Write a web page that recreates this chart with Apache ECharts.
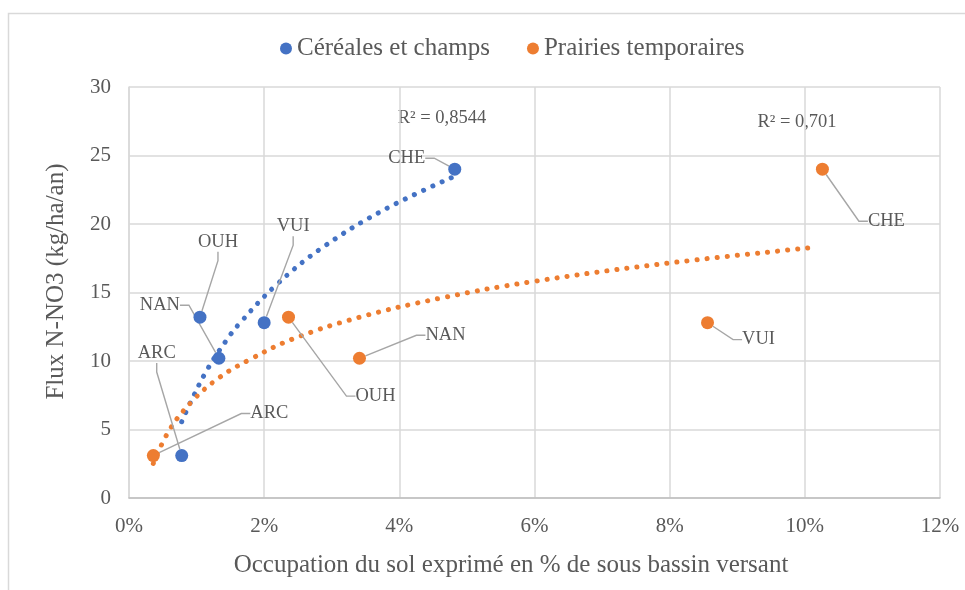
<!DOCTYPE html>
<html>
<head>
<meta charset="utf-8">
<script src="https://cdn.jsdelivr.net/npm/echarts@6/dist/echarts.min.js"></script>
<style>html,body{margin:0;padding:0;background:#fff;}#chart{width:965px;height:590px;}</style>
</head>
<body>
<div id="chart"></div>
<script>
// ---- data ----
var seriesNames = ['Céréales et champs', 'Prairies temporaires'];
var basinNames = ['ARC', 'OUH', 'NAN', 'VUI', 'CHE'];
var fluxValues = [3.1, 13.2, 10.2, 12.8, 24.0];             // kg/ha/an
var cerealesShare = [0.78, 1.05, 1.33, 2.0, 4.82];          // % of sub-basin
var prairiesShare = [0.36, 2.36, 3.41, 8.56, 10.26];        // % of sub-basin
// trend lines (logarithmic)
var cerealesTrend = [[0.78,5.57],[0.919,7.08],[1.16,9.39],[1.437,11.48],[1.625,12.68],[2.168,15.50],[2.859,18.27],[3.768,21.02],[4.77,23.38]];
var prairiesTrend = [[0.36,2.53],[0.598,4.96],[0.928,7.03],[1.333,8.78],[1.793,10.12],[2.425,11.61],[3.407,13.19],[4.593,14.57],[5.965,15.79],[8.039,17.18],[10.163,18.30]];
var r2Labels = ['R² = 0,8544', 'R² = 0,701'];
var xTicks = {min: 0, max: 12, interval: 2};
var yTicks = {min: 0, max: 30, interval: 5};

// ---- styling ----
var FONT = "'Liberation Serif', 'Times New Roman', serif";
var TXT = '#595959';
var BLUE = '#4472C4', ORANGE = '#ED7D31';
// label offsets (px) per basin, per series
var cerealesLabelOffsets = [[-25,-102],[18,-75],[-59,-53],[29,-96],[-48,-11]];
var prairiesLabelOffsets = [[116,-42],[87,79],[86,-23],[51,17],[64,52]];

function pts(xs) {
  return xs.map(function (x, i) { return {name: basinNames[i], value: [x, fluxValues[i]]}; });
}

function scatterSeries(name, xs, color, offsets) {
  return {
    name: name,
    type: 'scatter',
    z: 5,
    symbol: 'circle',
    symbolSize: 13,
    itemStyle: {color: color, opacity: 1},
    data: pts(xs),
    label: {
      show: true,
      position: 'inside',
      formatter: '{b}',
      color: TXT,
      fontFamily: FONT,
      fontSize: 18.5
    },
    labelLine: {
      show: true,
      length2: 9,
      lineStyle: {color: '#a6a6a6', width: 1.4}
    },
    labelLayout: function (p) {
      var o = offsets[p.dataIndex];
      return {dx: o[0], dy: o[1]};
    },
    emphasis: {disabled: true}
  };
}

function trendSeries(name, data, color) {
  return {
    name: name,
    type: 'line',
    z: 3,
    data: data,
    smooth: 0.4,
    showSymbol: false,
    symbol: 'none',
    silent: true,
    lineStyle: {color: color, width: 5, type: [0.1, 10], cap: 'round'}
  };
}

var chart = echarts.init(document.getElementById('chart'), null, {renderer: 'canvas'});
chart.setOption({
  animation: false,
  backgroundColor: '#fff',
  textStyle: {fontFamily: FONT},
  grid: {left: 129, top: 87, right: 25, bottom: 92, containLabel: false},
  legend: {
    data: seriesNames,
    left: 275,
    top: 31,
    icon: 'circle',
    itemWidth: 12,
    itemHeight: 12,
    itemGap: 37,
    textStyle: {color: TXT, fontFamily: FONT, fontSize: 25}
  },
  xAxis: {
    type: 'value',
    min: xTicks.min, max: xTicks.max, interval: xTicks.interval,
    name: 'Occupation du sol exprimé en % de sous bassin versant',
    nameLocation: 'middle',
    nameGap: 55,
    nameTextStyle: {color: TXT, fontFamily: FONT, fontSize: 25, padding: [0, 47, 0, 0]},
    axisLine: {show: true, lineStyle: {color: '#bfbfbf', width: 1.5}},
    axisTick: {show: false},
    axisLabel: {color: TXT, fontFamily: FONT, fontSize: 21, margin: 18, formatter: '{value}%'},
    splitLine: {show: true, lineStyle: {color: '#d9d9d9', width: 1.5}}
  },
  yAxis: {
    type: 'value',
    min: yTicks.min, max: yTicks.max, interval: yTicks.interval,
    name: 'Flux N-NO3 (kg/ha/an)',
    nameLocation: 'middle',
    nameGap: 60,
    nameRotate: 90,
    nameTextStyle: {color: TXT, fontFamily: FONT, fontSize: 25, padding: [0, 0, 0, 22]},
    axisLine: {show: true, lineStyle: {color: '#d9d9d9', width: 1.5}},
    axisTick: {show: false},
    axisLabel: {color: TXT, fontFamily: FONT, fontSize: 21, margin: 18},
    splitLine: {show: true, lineStyle: {color: '#d9d9d9', width: 1.5}}
  },
  graphic: [
    {type: 'rect', silent: true, shape: {x: 8.5, y: 13.5, width: 1000, height: 1000},
     style: {fill: 'none', stroke: '#d9d9d9', lineWidth: 1.5}},
    {type: 'text', silent: true, x: 442, y: 118,
     style: {text: r2Labels[0], fill: TXT, font: '18.5px ' + FONT, textAlign: 'center', textVerticalAlign: 'middle'}},
    {type: 'text', silent: true, x: 797, y: 122,
     style: {text: r2Labels[1], fill: TXT, font: '18.5px ' + FONT, textAlign: 'center', textVerticalAlign: 'middle'}}
  ],
  series: [
    scatterSeries(seriesNames[0], cerealesShare, BLUE, cerealesLabelOffsets),
    scatterSeries(seriesNames[1], prairiesShare, ORANGE, prairiesLabelOffsets),
    trendSeries('Log. (' + seriesNames[0] + ')', cerealesTrend, BLUE),
    trendSeries('Log. (' + seriesNames[1] + ')', prairiesTrend, ORANGE)
  ]
});
</script>
</body>
</html>
